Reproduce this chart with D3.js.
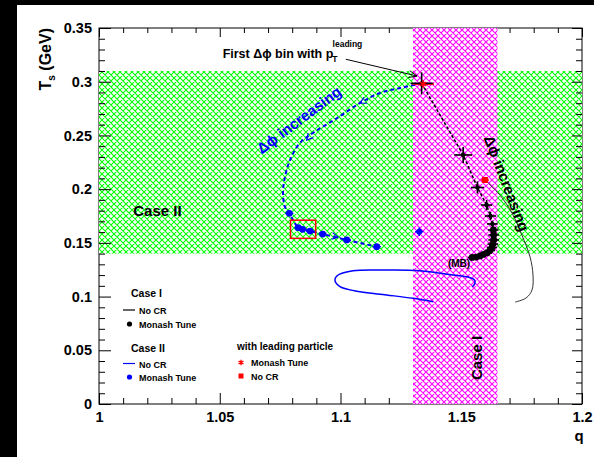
<!DOCTYPE html>
<html>
<head>
<meta charset="utf-8">
<script src="https://cdn.jsdelivr.net/npm/d3@7"></script>
<style>
  html, body { margin: 0; padding: 0; background: #000; }
  svg { display: block; }
  text { font-family: "Liberation Sans", Arial, Helvetica, sans-serif; font-weight: bold; }
</style>
</head>
<body>
<svg id="chart" width="594" height="457"></svg>
<script>
// Ts versus q for the two event-selection cases, with and without colour reconnection

// axis ticks
const xTicks = [1, 1.05, 1.1, 1.15, 1.2];
const xTickLabels = ["1", "1.05", "1.1", "1.15", "1.2"];
const yTicks = [0, 0.05, 0.1, 0.15, 0.2, 0.25, 0.3, 0.35];
const yTickLabels = ["0", "0.05", "0.1", "0.15", "0.2", "0.25", "0.3", "0.35"];

// shaded regions: Case II (Ts band) and Case I (q band)
const caseIIBandT = [0.14, 0.31];
const caseIBandQ = [1.13, 1.165];

// Case I, Monash tune (Δϕ bins), with errors
const case1MonashQ = [1.1336, 1.1508, 1.1567, 1.1605, 1.1621, 1.1629, 1.1633, 1.1634, 1.1634, 1.1631, 1.1627, 1.1619, 1.1607, 1.1592, 1.1578, 1.1561, 1.1545];
const case1MonashT = [0.2985, 0.2318, 0.2015, 0.1852, 0.1750, 0.1676, 0.1620, 0.1573, 0.1527, 0.1489, 0.1457, 0.1429, 0.1406, 0.1392, 0.1378, 0.1368, 0.1364];
const case1MonashErrQ = [0.0046, 0.0037, 0.0027, 0.0023, 0.0023, 0.0022, 0.0022, 0.0022, 0.0022, 0.0022, 0.0021, 0.0021, 0.0020, 0.0020, 0.0019, 0.0019, 0.0018];
const case1MonashErrT = [0.0102, 0.0075, 0.0056, 0.0047, 0.0037, 0.0030, 0.0025, 0.0020, 0.0020, 0.0020, 0.0020, 0.0020, 0.0020, 0.0020, 0.0020, 0.0020, 0.0020];

// Case I, no colour reconnection
const case1NoCRQ = [1.1598, 1.1660, 1.1710, 1.1751, 1.1785, 1.1797, 1.1793, 1.1768, 1.1723];
const case1NoCRT = [0.2085, 0.1945, 0.1778, 0.1573, 0.1368, 0.1201, 0.1061, 0.0986, 0.0949];

// Case II, Monash tune: leading bin and curve towards larger Δϕ
const case2CurveQ = [1.1336, 1.1246, 1.1164, 1.1081, 1.0986, 1.0886, 1.0832, 1.0791, 1.0770, 1.0762, 1.0770];
const case2CurveT = [0.2985, 0.2941, 0.2895, 0.2802, 0.2662, 0.2523, 0.2430, 0.2271, 0.2113, 0.1964, 0.1834];
const case2MonashQ = [1.0788, 1.0825, 1.0843, 1.0874, 1.0926, 1.1026, 1.1150];
const case2MonashT = [0.1775, 0.1641, 0.1626, 0.1610, 0.1582, 0.1527, 0.1464];
const case2MonashErrQ = [0.0017, 0.0017, 0.0017, 0.0017, 0.0017, 0.0017, 0.0017];
const case2MonashErrT = [0.0018, 0.0018, 0.0018, 0.0018, 0.0018, 0.0018, 0.0018];
const case2MBQ = [1.1326];
const case2MBT = [0.1604];

// Case II, no colour reconnection
const case2NoCRQ = [1.1545, 1.1557, 1.1553, 1.1528, 1.1466, 1.1329, 1.1191, 1.1052, 1.0990, 1.0977, 1.0998, 1.1081, 1.1191, 1.1300, 1.1384];
const case2NoCRT = [0.1089, 0.1126, 0.1159, 0.1182, 0.1201, 0.1241, 0.1247, 0.1241, 0.1201, 0.1154, 0.1092, 0.1045, 0.1015, 0.0984, 0.0952];

// with leading particle
const leadMonashQ = [1.1342], leadMonashT = [0.2978], leadMonashErrQ = [0.0045];
const leadNoCRQ = [1.1598], leadNoCRT = [0.2085], leadNoCRErrQ = [0.0017];

const svg = d3.select("#chart");
const W = 594, H = 457;
const frame = { left: 99, right: 582, top: 28, bottom: 404 };

const x = d3.scaleLinear().domain([1, 1.2]).range([frame.left, frame.right]);
const y = d3.scaleLinear().domain([0, 0.35]).range([frame.bottom, frame.top]);

const BLUE = "#0000ff";

// page
svg.append("rect").attr("x", 0).attr("y", 0).attr("width", W).attr("height", H).attr("fill", "#000");
svg.append("rect").attr("x", 17).attr("y", 5).attr("width", W - 17).attr("height", H - 5).attr("fill", "#fff");

// hatch patterns
const defs = svg.append("defs");
function hatch(id, color) {
  const p = defs.append("pattern").attr("id", id).attr("patternUnits", "userSpaceOnUse")
    .attr("width", 6).attr("height", 6);
  p.append("rect").attr("width", 6).attr("height", 6).attr("fill", "#fff");
  p.append("path").attr("d", "M0,0L6,6M6,0L0,6M-1,5L1,7M5,-1L7,1M-1,1L1,-1M5,7L7,5")
    .attr("stroke", color).attr("stroke-width", 1.1).attr("fill", "none");
}
hatch("hatchGreen", "#00ff00");
hatch("hatchMagenta", "#ff00ff");

// frame
svg.append("rect").attr("x", frame.left).attr("y", frame.top)
  .attr("width", frame.right - frame.left).attr("height", frame.bottom - frame.top)
  .attr("fill", "none").attr("stroke", "#000").attr("stroke-width", 1);

// Case II band
svg.append("rect")
  .attr("x", x(1)).attr("width", x(1.2) - x(1))
  .attr("y", y(caseIIBandT[1])).attr("height", y(caseIIBandT[0]) - y(caseIIBandT[1]))
  .attr("fill", "url(#hatchGreen)");

// ticks
const xMinor = d3.range(1, 1.2001, 0.01).filter(v => !xTicks.some(t => Math.abs(t - v) < 1e-6));
const yMinor = d3.range(0, 0.3501, 0.01).filter(v => !yTicks.some(t => Math.abs(t - v) < 1e-6));

function axis(gen, scale, values, size, labels, pad, tx, ty) {
  const a = gen(scale).tickValues(values).tickSize(-size).tickSizeOuter(0).tickPadding(pad)
    .tickFormat(labels ? (d, i) => labels[i] : "");
  const g = svg.append("g").attr("transform", `translate(${tx},${ty})`).call(a);
  g.select(".domain").remove();
  g.selectAll("line").attr("stroke", "#000").attr("stroke-width", 1);
  g.selectAll("text").attr("fill", "#000").style("font-size", "14.5px")
    .style("font-family", "'Liberation Sans', Arial, sans-serif").style("font-weight", "bold");
  return g;
}
axis(d3.axisBottom, x, xTicks, 11, xTickLabels, 8, 0, frame.bottom);
axis(d3.axisBottom, x, xMinor, 6, null, 8, 0, frame.bottom);
axis(d3.axisTop, x, xTicks, 9, null, 0, 0, frame.top);
axis(d3.axisTop, x, xMinor, 5, null, 0, 0, frame.top);
axis(d3.axisLeft, y, yTicks, 12, yTickLabels, 7, frame.left, 0);
axis(d3.axisLeft, y, yMinor, 6, null, 7, frame.left, 0);
axis(d3.axisRight, y, yTicks, 10, null, 0, frame.right, 0);
axis(d3.axisRight, y, yMinor, 6, null, 0, frame.right, 0);

// Case I band
svg.append("rect")
  .attr("x", x(caseIBandQ[0])).attr("width", x(caseIBandQ[1]) - x(caseIBandQ[0]))
  .attr("y", y(0.35)).attr("height", y(0) - y(0.35))
  .attr("fill", "url(#hatchMagenta)");

// axis titles
const yt = svg.append("text").attr("transform", "translate(51,28) rotate(-90)")
  .attr("text-anchor", "end").style("font-size", "16px").attr("fill", "#000");
yt.append("tspan").text("T");
yt.append("tspan").attr("dy", 4).style("font-size", "10px").text("s");
yt.append("tspan").attr("dy", -4).text(" (GeV)");
svg.append("text").attr("x", 579).attr("y", 441).attr("text-anchor", "middle")
  .style("font-size", "15px").attr("fill", "#000").text("q");

// series helpers
const pts = (qs, ts) => qs.map((q, i) => [x(q), y(ts[i])]);
const lineSmooth = d3.line().curve(d3.curveCatmullRom.alpha(0.5));
const lineStraight = d3.line();

function errorBars(qs, ts, eq, et, color, width) {
  const g = svg.append("g").attr("stroke", color).attr("stroke-width", width);
  qs.forEach((q, i) => {
    if (eq && eq[i]) g.append("line").attr("x1", x(q - eq[i])).attr("x2", x(q + eq[i]))
      .attr("y1", y(ts[i])).attr("y2", y(ts[i]));
    if (et && et[i]) g.append("line").attr("x1", x(q)).attr("x2", x(q))
      .attr("y1", y(ts[i] - et[i])).attr("y2", y(ts[i] + et[i]));
  });
}

// Case II, no CR
svg.append("path").attr("d", lineSmooth(pts(case2NoCRQ, case2NoCRT)))
  .attr("fill", "none").attr("stroke", BLUE).attr("stroke-width", 1.5);

// Case I, no CR
svg.append("path").attr("d", lineSmooth(pts(case1NoCRQ, case1NoCRT)))
  .attr("fill", "none").attr("stroke", "#333").attr("stroke-width", 1);

// Case II, Monash: dashed curve
svg.append("path").attr("d", lineSmooth(pts(case2CurveQ.concat(case2MonashQ), case2CurveT.concat(case2MonashT))))
  .attr("fill", "none").attr("stroke", BLUE).attr("stroke-width", 2).attr("stroke-dasharray", "4,3");

// direction chevrons on the Case II curve
const chevrons = [
  { from: [1.1164, 0.2895], to: [1.1081, 0.2802] },
  { from: [1.0886, 0.2523], to: [1.0860, 0.2457] },
  { from: [1.0926, 0.1582], to: [1.0990, 0.1553] }
];
chevrons.forEach(c => {
  const x0 = x(c.from[0]), y0 = y(c.from[1]), x1 = x(c.to[0]), y1 = y(c.to[1]);
  const a = Math.atan2(y1 - y0, x1 - x0), L = 7, s = 0.5;
  svg.append("path")
    .attr("d", `M${x1 - L * Math.cos(a - s)},${y1 - L * Math.sin(a - s)}L${x1},${y1}L${x1 - L * Math.cos(a + s)},${y1 - L * Math.sin(a + s)}`)
    .attr("fill", "none").attr("stroke", BLUE).attr("stroke-width", 1.2);
});

errorBars(case2MonashQ, case2MonashT, case2MonashErrQ, case2MonashErrT, BLUE, 1.5);
svg.append("g").selectAll("circle").data(pts(case2MonashQ, case2MonashT)).join("circle")
  .attr("cx", d => d[0]).attr("cy", d => d[1]).attr("r", 3.4).attr("fill", BLUE);

errorBars(case2MBQ, case2MBT, [0.0017], [0.004], BLUE, 1.5);
svg.append("g").selectAll("circle").data(pts(case2MBQ, case2MBT)).join("circle")
  .attr("cx", d => d[0]).attr("cy", d => d[1]).attr("r", 3).attr("fill", BLUE);

// leading particle, Monash: error bar sits under the Case I cross
errorBars(leadMonashQ, leadMonashT, leadMonashErrQ, null, "#ff0000", 1.6);

// Case I, Monash: dashed connector, error bars, markers
svg.append("path").attr("d", lineStraight(pts(case1MonashQ, case1MonashT)))
  .attr("fill", "none").attr("stroke", "#000").attr("stroke-width", 1.5).attr("stroke-dasharray", "3,2");
errorBars(case1MonashQ, case1MonashT, case1MonashErrQ, case1MonashErrT, "#000", 1.6);
svg.append("g").selectAll("circle").data(pts(case1MonashQ, case1MonashT)).join("circle")
  .attr("cx", d => d[0]).attr("cy", d => d[1]).attr("r", (d, i) => i < 6 ? 2.2 : 3.4).attr("fill", "#000");

// leading particle markers
svg.append("g").selectAll("path").data(pts(leadMonashQ, leadMonashT)).join("path")
  .attr("transform", d => `translate(${d[0]},${d[1]})`)
  .attr("d", d3.symbol(d3.symbolAsterisk, 40)).attr("fill", "none").attr("stroke", "#ff0000").attr("stroke-width", 1.5);
errorBars(leadNoCRQ, leadNoCRT, leadNoCRErrQ, null, "#ff0000", 1.4);
svg.append("g").selectAll("rect").data(pts(leadNoCRQ, leadNoCRT)).join("rect")
  .attr("x", d => d[0] - 3).attr("y", d => d[1] - 3).attr("width", 6).attr("height", 6).attr("fill", "#ff0000");

// highlighted box around the Case II Monash points
const box = { q: [1.0793, 1.0897], t: [0.1542, 0.1711] };
svg.append("rect").attr("x", x(box.q[0])).attr("y", y(box.t[1]))
  .attr("width", x(box.q[1]) - x(box.q[0])).attr("height", y(box.t[0]) - y(box.t[1]))
  .attr("fill", "none").attr("stroke", "#ff0000").attr("stroke-width", 1.5);

// annotations
const first = svg.append("text").attr("x", x(1.0512)).attr("y", y(0.3218))
  .style("font-size", "12.5px").attr("fill", "#000");
first.append("tspan").text("First  Δϕ bin with p");
first.append("tspan").attr("dy", 4).attr("dx", -1).style("font-size", "8.5px").text("T");
first.append("tspan").attr("dx", -5).attr("dy", -15).style("font-size", "8.5px").text("leading");

{
  const x0 = x(1.1022), y0 = y(0.3209), x1 = x(1.1317), y1 = y(0.3053);
  const a = Math.atan2(y1 - y0, x1 - x0), L = 9, s = 0.4;
  svg.append("path")
    .attr("d", `M${x0},${y0}L${x1},${y1}M${x1 - L * Math.cos(a - s)},${y1 - L * Math.sin(a - s)}L${x1},${y1}L${x1 - L * Math.cos(a + s)},${y1 - L * Math.sin(a + s)}`)
    .attr("fill", "none").attr("stroke", "#000").attr("stroke-width", 1);
}

svg.append("text").attr("transform", `translate(${x(1.0828)},${y(0.2644)}) rotate(-37)`)
  .attr("text-anchor", "middle").attr("dy", "0.35em").style("font-size", "15px").attr("fill", BLUE)
  .text("Δϕ increasing");
svg.append("text").attr("transform", `translate(${x(1.1688)},${y(0.2054)}) rotate(69)`)
  .attr("text-anchor", "middle").attr("dy", "0.35em").style("font-size", "15px").attr("fill", "#000")
  .text("Δϕ increasing");

svg.append("text").attr("x", x(1.0142)).attr("y", y(0.175)).style("font-size", "15px").attr("fill", "#000").text("Case II");
svg.append("text").attr("transform", `translate(${x(1.1586)},${y(0.0428)}) rotate(-90)`)
  .attr("text-anchor", "middle").style("font-size", "15px").attr("fill", "#000").text("Case I");
svg.append("text").attr("x", x(1.1445)).attr("y", y(0.1275)).style("font-size", "10px").attr("fill", "#000").text("(MB)");

// legend
const lg = svg.append("g").attr("fill", "#000");
lg.append("text").attr("x", 131).attr("y", 297).style("font-size", "10.5px").text("Case I");
lg.append("line").attr("x1", 123).attr("x2", 135).attr("y1", 310).attr("y2", 310).attr("stroke", "#000").attr("stroke-width", 1.2);
lg.append("text").attr("x", 139).attr("y", 314).style("font-size", "9px").text("No CR");
lg.append("circle").attr("cx", 129.5).attr("cy", 324).attr("r", 2.6).attr("fill", "#000");
lg.append("text").attr("x", 139).attr("y", 328).style("font-size", "9px").text("Monash Tune");
lg.append("text").attr("x", 131).attr("y", 351.5).style("font-size", "10.5px").text("Case II");
lg.append("line").attr("x1", 123).attr("x2", 135).attr("y1", 363.5).attr("y2", 363.5).attr("stroke", BLUE).attr("stroke-width", 1.2);
lg.append("text").attr("x", 139).attr("y", 367.5).style("font-size", "9px").text("No CR");
lg.append("circle").attr("cx", 129.5).attr("cy", 377).attr("r", 2.6).attr("fill", BLUE);
lg.append("text").attr("x", 139).attr("y", 381).style("font-size", "9px").text("Monash Tune");
lg.append("text").attr("x", 237).attr("y", 350).style("font-size", "10px").text("with leading particle");
lg.append("path").attr("transform", "translate(241,362.5)").attr("d", d3.symbol(d3.symbolAsterisk, 22))
  .attr("fill", "none").attr("stroke", "#ff0000").attr("stroke-width", 1.3);
lg.append("text").attr("x", 251).attr("y", 366).style("font-size", "9px").text("Monash Tune");
lg.append("rect").attr("x", 238.5).attr("y", 373.5).attr("width", 5).attr("height", 5).attr("fill", "#ff0000");
lg.append("text").attr("x", 251).attr("y", 380).style("font-size", "9px").text("No CR");
</script>
</body>
</html>
